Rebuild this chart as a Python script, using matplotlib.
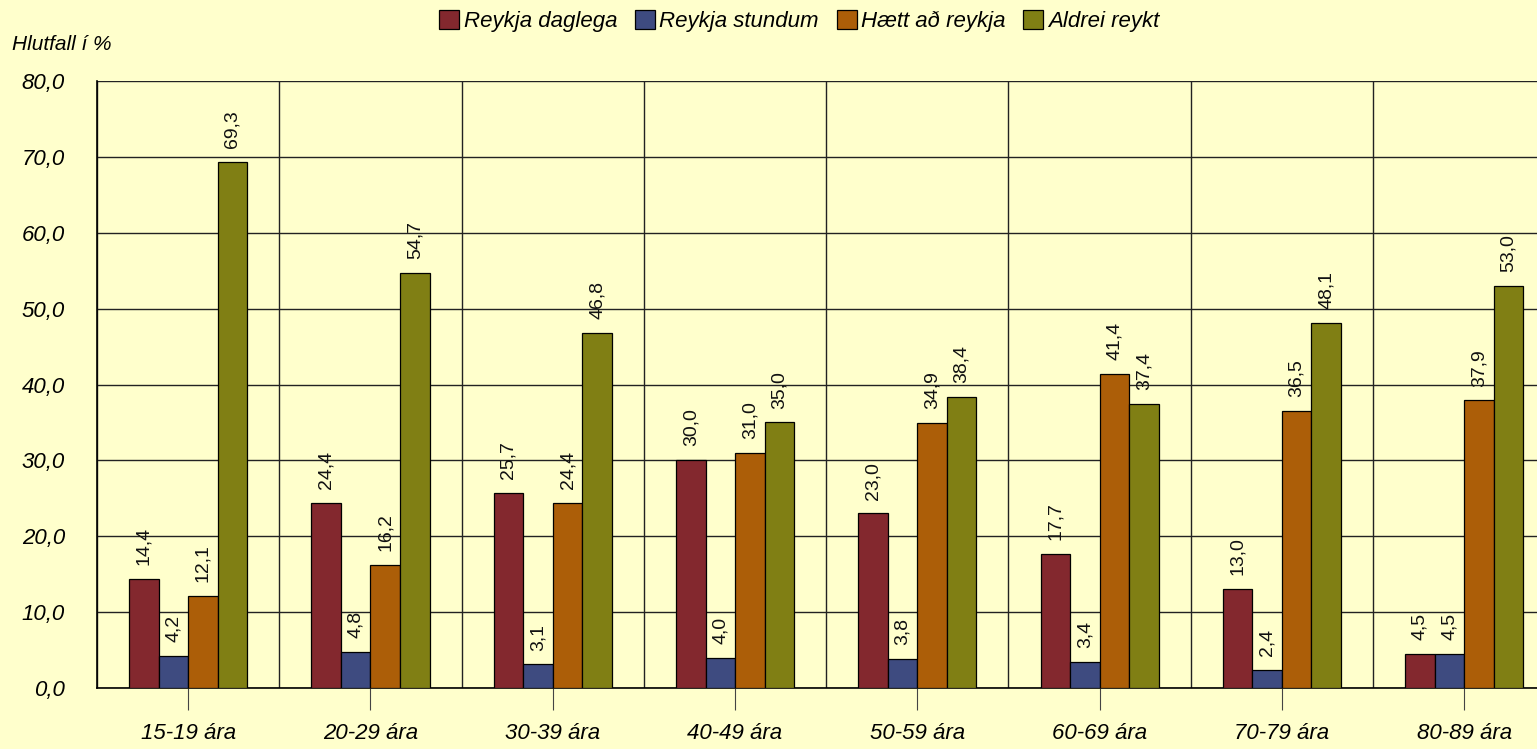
import numpy as np
import matplotlib.pyplot as plt
from matplotlib.ticker import MultipleLocator, FixedLocator

groups = ['15-19 ára', '20-29 ára', '30-39 ára', '40-49 ára',
          '50-59 ára', '60-69 ára', '70-79 ára', '80-89 ára']
series_names = ['Reykja daglega', 'Reykja stundum', 'Hætt að reykja', 'Aldrei reykt']
daglega = [14.4, 24.4, 25.7, 30.0, 23.0, 17.7, 13.0, 4.5]
stundum = [4.2, 4.8, 3.1, 4.0, 3.8, 3.4, 2.4, 4.5]
haett = [12.1, 16.2, 24.4, 31.0, 34.9, 41.4, 36.5, 37.9]
aldrei = [69.3, 54.7, 46.8, 35.0, 38.4, 37.4, 48.1, 53.0]
colors = ['#83282E', '#3E4B80', '#AC5E08', '#807F14']

bg = '#FFFFCC'
plt.rcParams['font.family'] = ['Liberation Sans', 'DejaVu Sans']
plt.rcParams['font.style'] = 'italic'

fig = plt.figure(figsize=(15.37, 7.49), dpi=100, facecolor=bg)
ax = fig.add_axes([97 / 1537, 61 / 749, 1458.4 / 1537, 607 / 749])
ax.set_facecolor(bg)

x = np.arange(len(groups))
w = 0.162
all_series = [daglega, stundum, haett, aldrei]
for i, (vals, name, c) in enumerate(zip(all_series, series_names, colors)):
    pos = x + (i - 1.5) * w
    bars = ax.bar(pos, vals, w, color=c, edgecolor='black', linewidth=0.9,
                  label=name, zorder=3)
    for b, v in zip(bars, vals):
        ax.annotate(f'{v:.1f}'.replace('.', ','),
                    (b.get_x() + b.get_width() / 2, b.get_height()),
                    xytext=(0, 10), textcoords='offset points',
                    rotation=90, ha='center', va='bottom', fontsize=14,
                    fontstyle='normal', color='#111111')

ax.set_xlim(-0.5, len(groups) - 0.5)
ax.set_ylim(0, 80)
ax.yaxis.set_major_locator(MultipleLocator(10))
ax.set_yticklabels([f'{t:.1f}'.replace('.', ',') for t in ax.get_yticks()])
ax.set_xticks(x)
ax.set_xticklabels(groups)
ax.xaxis.set_minor_locator(FixedLocator(np.arange(-0.5, len(groups), 1.0)))
ax.tick_params(axis='x', which='major', length=16, width=0.8, color='#444444',
               pad=9, labelsize=16)
ax.tick_params(axis='x', which='minor', length=0)
ax.tick_params(axis='y', length=0, pad=23, labelsize=16)
ax.grid(axis='y', which='major', color='#222222', linewidth=1, zorder=0)
ax.grid(axis='x', which='minor', color='#222222', linewidth=1, zorder=0)
ax.grid(axis='x', which='major', visible=False)
for s in ['top', 'right']:
    ax.spines[s].set_visible(False)
for s in ['left', 'bottom']:
    ax.spines[s].set_color('black')
    ax.spines[s].set_linewidth(1.2)

fig.text(12 / 1537, 1 - 45 / 749, 'Hlutfall í %', fontsize=15, va='center', ha='left')
fig.legend(loc='center', bbox_to_anchor=(799 / 1537, 1 - 21 / 749), ncol=4,
           frameon=False, fontsize=16, handlelength=0.9, handleheight=0.9,
           handletextpad=0.2, columnspacing=0.8)

fig.savefig('out.png', dpi=100, facecolor=bg)
